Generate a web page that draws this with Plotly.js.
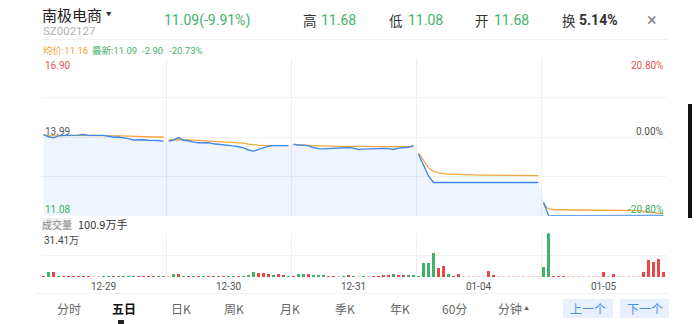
<!DOCTYPE html>
<html><head><meta charset="utf-8">
<script src="https://cdn.plot.ly/plotly-3.0.1.min.js"></script>
<style>html,body{margin:0;padding:0;background:#fff;}#chart{width:700px;height:324px;}</style>
</head><body><div id="chart"></div>
<script>
// ---------- data ----------
const days = ['12-29','12-30','12-31','01-04','01-05'];
const prevClose = 13.99;
const priceMax = 16.90, priceMin = 11.08;
const volMax = 314100; // 31.41万

const price1 = [14.08,14.00,13.96,14.03,14.05,14.05,14.06,14.06,14.08,14.05,14.05,14.05,14.05,14.02,13.98,13.99,13.97,13.93,13.88,13.89,13.89,13.87,13.87,13.86,13.83];
const avg1   = [14.08,14.04,14.03,14.04,14.05,14.05,14.05,14.05,14.05,14.05,14.05,14.05,14.05,14.04,14.04,14.03,14.03,14.02,14.01,14.01,14.00,14.00,13.99,13.99,13.98];
const price2 = [13.84,13.88,13.97,13.87,13.85,13.80,13.78,13.77,13.78,13.74,13.72,13.71,13.70,13.66,13.63,13.59,13.51,13.47,13.53,13.60,13.65,13.67,13.68,13.67,13.67];
const avg2   = [13.88,13.89,13.90,13.89,13.88,13.87,13.86,13.85,13.84,13.83,13.82,13.81,13.80,13.79,13.78,13.76,13.73,13.70,13.69,13.68,13.68,13.67,13.67,13.67,13.67];
const price3 = [13.72,13.69,13.69,13.66,13.60,13.56,13.55,13.56,13.57,13.58,13.59,13.60,13.58,13.53,13.54,13.55,13.55,13.56,13.57,13.56,13.53,13.58,13.60,13.61,13.68];
const avg3   = [13.72,13.70,13.69,13.68,13.67,13.66,13.65,13.65,13.64,13.64,13.64,13.64,13.63,13.63,13.63,13.62,13.62,13.62,13.62,13.62,13.62,13.62,13.62,13.62,13.63];
const price4 = [13.35,12.98,12.55,12.31,12.31,12.31,12.31,12.31,12.31,12.31,12.31,12.31,12.31,12.31,12.31,12.31,12.31,12.31,12.31,12.31,12.31,12.31,12.31,12.31,12.31];
const avg4   = [13.40,13.10,12.85,12.72,12.67,12.63,12.62,12.61,12.60,12.60,12.59,12.59,12.58,12.58,12.58,12.58,12.57,12.57,12.57,12.57,12.56,12.56,12.56,12.56,12.56];
const price5 = [11.58,11.09,11.08,11.08,11.08,11.08,11.08,11.08,11.08,11.08,11.08,11.08,11.08,11.08,11.08,11.08,11.08,11.08,11.08,11.08,11.08,11.08,11.08,11.08,11.09];
const avg5   = [11.52,11.33,11.31,11.30,11.30,11.30,11.29,11.29,11.29,11.29,11.29,11.29,11.29,11.29,11.28,11.28,11.28,11.28,11.28,11.27,11.25,11.22,11.20,11.17,11.16];

// volume (手) and direction (1 up, -1 down, 0 flat)
const vol1 = [7200,38100,38100,7200,7200,9300,7200,7200,7200,9300,5000,5000,5000,7200,7200,7200,9300,9300,7200,7200,7200,7200,7200,9300,7200];
const dir1 = [1,-1,1,-1,1,1,1,1,1,1,0,0,-1,-1,1,-1,-1,-1,-1,1,1,1,1,-1,-1];
const vol2 = [5000,19400,19400,9300,9300,9300,9300,9300,9300,9300,9300,9300,9300,5000,9300,7200,12200,35900,30900,26600,21600,16500,21600,16500,9300];
const dir2 = [0,-1,1,-1,1,-1,1,-1,1,1,-1,1,-1,-1,1,-1,-1,-1,1,1,1,-1,1,1,-1];
const vol3 = [7200,21600,19400,21600,16500,14400,14400,9300,9300,7200,9300,14400,7200,5000,5000,5000,7200,7200,14400,14400,19400,12200,14400,14400,12200];
const dir3 = [1,-1,-1,1,-1,-1,-1,1,1,0,-1,1,-1,0,-1,0,1,1,1,1,-1,1,1,-1,-1];
const vol4 = [9300,100600,100600,170400,64700,76900,21600,7200,23700,5000,5000,5000,5000,5000,45300,16500,5000,5000,5000,5000,5000,5000,5000,5000,5000];
const dir4 = [-1,-1,-1,-1,1,1,-1,1,1,0,0,0,0,0,1,1,0,0,0,0,0,0,0,0,0];
const vol5 = [69700,314100,10800,10800,7200,5000,5000,5000,5000,5000,5000,5000,35900,5000,23700,5000,5000,5000,5000,5000,38100,122200,105700,129400,38100];
const dir5 = [-1,-1,1,1,1,0,0,0,0,0,0,0,1,0,1,0,0,0,0,0,1,1,1,1,1];

// ---------- build ----------
const W = 700, H = 324;
const prices = [price1,price2,price3,price4,price5];
const avgs = [avg1,avg2,avg3,avg4,avg5];
const vols = [vol1,vol2,vol3,vol4,vol5];
const dirs = [dir1,dir2,dir3,dir4,dir5];
const N = price1.length;

let fx=[], fy=[], lx=[], ly=[], ay=[], bx=[], by=[], bc=[];
const RED='#e84848', GREEN='#3fb26b', FLAT='#f5caca';
prices.forEach((p,d)=>{
  p.forEach((v,k)=>{ const x=d*N+k; fx.push(x); fy.push(v); lx.push(x); ly.push(v); ay.push(avgs[d][k]);
    bx.push(x); by.push(vols[d][k]); const s=dirs[d][k]; bc.push(s>0?RED:(s<0?GREEN:FLAT)); });
  lx.push(null); ly.push(null); ay.push(null);
});
const bounds = days.slice(1).map((_,i)=>(i+1)*N-0.5);
const centers = days.map((_,i)=>i*N+(N-1)/2);

const traces = [
  {x:fx, y:fy, type:'scatter', mode:'lines', line:{width:0}, fill:'tozeroy', fillcolor:'rgba(80,140,230,0.09)', hoverinfo:'skip', xaxis:'x', yaxis:'y'},
  {x:lx, y:ay, type:'scatter', mode:'lines', line:{color:'#f4a63e', width:1.3}, connectgaps:false, xaxis:'x', yaxis:'y'},
  {x:lx, y:ly, type:'scatter', mode:'lines', line:{color:'#3f88ee', width:1.4}, connectgaps:false, xaxis:'x', yaxis:'y'},
  {x:bx, y:by, type:'bar', marker:{color:bc, line:{width:0}}, width:0.6, xaxis:'x2', yaxis:'y2'}
];

const FONT = "Roboto, 'Noto Sans CJK SC', sans-serif";
const CJK = "'Noto Sans CJK SC', Roboto, sans-serif";
function T(text, px, py, size, color, anchor, fam){
  return {text:text, x:px/W, y:1-py/H, xref:'paper', yref:'paper', xanchor:anchor||'left', yanchor:'middle',
          showarrow:false, font:{size:size, color:color, family:fam||FONT}, borderpad:0};
}
function R(x0,y0,x1,y1,fill){
  return {type:'rect', xref:'paper', yref:'paper', x0:x0/W, x1:x1/W, y0:1-y1/H, y1:1-y0/H,
          fillcolor:fill, line:{width:0}, layer:'below'};
}
function L(x0,y0,x1,y1,color,w){
  return {type:'line', xref:'paper', yref:'paper', x0:x0/W, x1:x1/W, y0:1-y0/H, y1:1-y1/H, line:{color:color,width:w||1}};
}
const G='#3fb26b', Rd='#e25656';
const pct = v => ((v-prevClose)/prevClose*100).toFixed(2)+'%';

const ann = [
  T('南极电商', 41, 14.5, 15, '#222', 'left', CJK),
  T('▼', 109, 14, 5.5, '#333', 'center'),
  T('SZ002127', 42, 31.5, 11.5, '#b0b0b0'),
  T('11.09(-9.91%)', 163, 20, 14, G),
  T('高', 302, 20, 13.5, '#333', 'left', CJK), T('11.68', 320, 20, 14, G),
  T('低', 388, 20, 13.5, '#333', 'left', CJK), T('11.08', 407, 20, 14, G),
  T('开', 474, 20, 13.5, '#333', 'left', CJK), T('11.68', 493, 20, 14, G),
  T('换', 561, 20, 13.5, '#333', 'left', CJK), T('<b>5.14%</b>', 578, 20, 14, '#333'),
  T('×', 652, 19, 18, '#888', 'center'),
  T('均价:11.16', 42, 50, 9.5, '#f0a030'),
  T('最新:11.09', 91, 50, 9.5, G), T('-2.90', 140.5, 50, 9.5, G), T('-20.73%', 167.5, 50, 9.5, G),
  T(priceMax.toFixed(2), 44, 65, 10, Rd), T(prevClose.toFixed(2), 44, 131.5, 10, '#555'), T(priceMin.toFixed(2), 44, 209.5, 10, G),
  T(pct(priceMax), 664, 65, 10, Rd, 'right'), T(pct(prevClose).replace('-',''), 664, 131.5, 10, '#555', 'right'), T(pct(priceMin), 664, 209.5, 10, G, 'right'),
  T('成交量', 57, 224, 10, '#888', 'center', CJK), T('100.9万手', 77, 224, 11, '#333', 'left', CJK),
  T((volMax/10000).toFixed(2)+'万', 43, 240, 10, '#444'),
  T('分时', 69, 308, 12, '#666', 'center', CJK), T('<b>五日</b>', 124, 308, 12, '#111', 'center', CJK),
  T('日K', 181, 308, 12, '#666', 'center', CJK), T('周K', 234, 308, 12, '#666', 'center', CJK),
  T('月K', 290, 308, 12, '#666', 'center', CJK), T('季K', 345, 308, 12, '#666', 'center', CJK),
  T('年K', 400, 308, 12, '#666', 'center', CJK), T('60分', 454, 308, 12, '#666', 'center', CJK),
  T('分钟', 510, 308, 12, '#666', 'center', CJK), T('▲', 526, 308, 5, '#666', 'center'),
  T('上一个', 588, 308.5, 12, '#4a90e2', 'center', CJK), T('下一个', 645, 308.5, 12, '#4a90e2', 'center', CJK)
];

const shapes = [
  L(42, 39.5, 668, 39.5, '#f0f0f0', 1),
  L(36, 293.5, 668, 293.5, '#f0f0f0', 1),
  R(42, 218, 72, 230.5, '#f1f1f1'),
  R(563, 299, 613, 318, '#e7f0fc'),
  R(620, 299, 669, 318, '#e7f0fc'),
  R(118, 320, 124, 324, '#222'),
  {type:'line', xref:'paper', yref:'paper', x0:690/W, x1:690/W, y0:1-104/H, y1:1-218/H, line:{color:'#111', width:4}}
];

const layout = {
  width:W, height:H, margin:{l:0,r:0,t:0,b:0}, paper_bgcolor:'#fff', plot_bgcolor:'rgba(0,0,0,0)',
  showlegend:false, font:{family:FONT}, bargap:0,
  xaxis:{domain:[41/W, 666/W], anchor:'y', range:[-0.5, days.length*N-0.5], tickmode:'array', tickvals:bounds,
         showticklabels:false, showgrid:true, gridcolor:'#eeeeee', zeroline:false, showline:false, ticks:''},
  xaxis2:{domain:[41/W, 666/W], anchor:'y2', matches:'x', range:[-0.5, days.length*N-0.5], tickmode:'array', tickvals:centers, ticktext:days,
          showgrid:false, zeroline:false, showline:false, ticks:'', tickfont:{size:10, color:'#555'}, ticklabelstandoff:2,
          minor:{tickmode:'array', tickvals:bounds, showgrid:true, gridcolor:'#eeeeee', ticks:''}},
  yaxis:{domain:[1-215.7/H, 1-58.3/H], anchor:'x', range:[priceMin, priceMax], tickmode:'array',
         tickvals:[priceMin+(priceMax-priceMin)*0.25, prevClose, priceMin+(priceMax-priceMin)*0.75, priceMax],
         showticklabels:false, showgrid:true, gridcolor:'#f0f0f0', zeroline:false, showline:false},
  yaxis2:{domain:[1-277/H, 1-233.3/H], anchor:'x2', range:[0, volMax], tickmode:'array', tickvals:[volMax/2, volMax],
          showticklabels:false, showgrid:true, gridcolor:'#f0f0f0', zeroline:false, showline:false},
  annotations:ann, shapes:shapes
};
Plotly.newPlot('chart', traces, layout, {staticPlot:true, displayModeBar:false});
</script></body></html>
